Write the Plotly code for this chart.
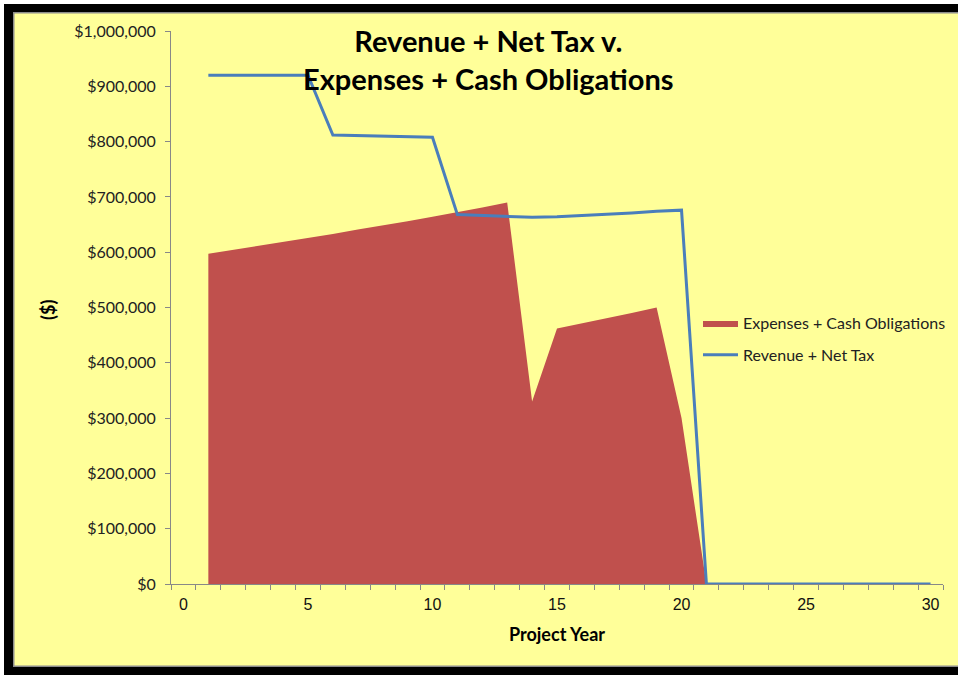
import plotly.graph_objects as go

years = list(range(0, 31))
expenses_cash = [None, 597000, 604000, 611000, 618000, 626000, 633000, 641000, 648000, 656000,
                 664000, 672000, 681000, 690000, 330000, 462000, 471000, 481000, 490000, 500000,
                 300000, 0, 0, 0, 0, 0, 0, 0, 0, 0, 0]
revenue_tax = [None, 920000, 920000, 920000, 920000, 920000, 812000, 811000, 810000, 810000,
               808000, 668000, 666000, 664000, 663000, 664000, 666000, 669000, 671000, 674000,
               676000, 0, 0, 0, 0, 0, 0, 0, 0, 0, 0]
x_tick_vals = [0, 5, 10, 15, 20, 25, 30]
y_tick_vals = [0, 100000, 200000, 300000, 400000, 500000, 600000, 700000, 800000, 900000, 1000000]
y_tick_text = ["$0", "$100,000", "$200,000", "$300,000", "$400,000", "$500,000",
               "$600,000", "$700,000", "$800,000", "$900,000", "$1,000,000"]

W, H = 958, 675
ML, MR, MT, MB = 171, 15, 31, 91
PW, PH = W - ML - MR, H - MT - MB


def px(x):
    return (x - ML) / PW


def py(y):
    return (H - MB - y) / PH


def rect(x0, y0, x1, y1, color, layer="below"):
    return dict(type="rect", xref="paper", yref="paper", x0=px(x0), x1=px(x1), y0=py(y1), y1=py(y0),
                fillcolor=color, line=dict(width=0), layer=layer)


fig = go.Figure()
fig.add_trace(go.Scatter(
    x=years[1:], y=expenses_cash[1:], mode="lines", fill="tozeroy",
    fillcolor="#C0504D", line=dict(width=0, color="#C0504D"),
    name="Expenses + Cash Obligations", legendgroup="a"))
fig.add_trace(go.Scatter(
    x=years, y=revenue_tax, mode="lines",
    line=dict(width=3, color="#4A7EBB"),
    name="Revenue + Net Tax", legendgroup="b"))

GRAY = "#8C8C8C"
shapes = [
    rect(0, 0, W, 4, "white"),
    rect(0, 0, 4, H, "white"),
    rect(4, 4, W, 12, "black"),
    rect(4, 4, 13, H, "black"),
    rect(4, 667, W, H, "black"),
    rect(13, 12, W, 13.5, GRAY),
    rect(13, 12, 14.5, 667, GRAY),
    rect(13, 665.5, W, 667, GRAY),
]

FONT = "Lato, Open Sans, sans-serif"
annotations = [
    dict(text="<b>Revenue + Net Tax v.<br>Expenses + Cash Obligations</b>", xref="paper", yref="paper",
         x=px(488), y=py(60), xanchor="center", yanchor="middle", showarrow=False,
         font=dict(family=FONT, size=29, color="black")),
    dict(text="<b>Project Year</b>", xref="paper", yref="paper",
         x=px(557), y=py(634), xanchor="center", yanchor="middle", showarrow=False,
         font=dict(family=FONT, size=18, color="black")),
    dict(text="<b>($)</b>", xref="paper", yref="paper", textangle=-90,
         x=px(48), y=py(310), xanchor="center", yanchor="middle", showarrow=False,
         font=dict(family=FONT, size=18, color="black")),
]

fig.update_layout(
    width=W, height=H,
    margin=dict(l=ML, r=MR, t=MT, b=MB, autoexpand=False),
    paper_bgcolor="#FFFF99", plot_bgcolor="rgba(0,0,0,0)",
    shapes=shapes, annotations=annotations,
    showlegend=True,
    legend=dict(x=px(698), y=py(306), xanchor="left", yanchor="top",
                bgcolor="rgba(0,0,0,0)", font=dict(family=FONT, size=16, color="#222"),
                itemwidth=35, tracegroupgap=8, traceorder="grouped"),
)
fig.update_xaxes(
    range=[-0.5, 30.5], tickmode="array", tickvals=x_tick_vals, ticks="",
    showgrid=False, zeroline=False, showline=True, linecolor="#888888", linewidth=1,
    tickfont=dict(family="Liberation Sans, Arial, sans-serif", size=16, color="#111"),
    minor=dict(tickmode="array", tickvals=[v - 0.5 for v in range(0, 32)], ticks="outside",
               ticklen=5, tickcolor="#888888", showgrid=False),
    ticklabelstandoff=6, automargin=False,
)
fig.update_yaxes(
    range=[0, 1000000], tickmode="array", tickvals=y_tick_vals, ticktext=y_tick_text,
    ticks="outside", ticklen=5, tickcolor="#888888",
    showgrid=False, zeroline=False, showline=True, linecolor="#888888", linewidth=1,
    tickfont=dict(family=FONT, size=16, color="#222"),
    ticklabelstandoff=6, automargin=False,
)

fig.write_html(
    "out.html",
    post_script="document.documentElement.style.overflow='hidden';document.body.style.overflow='hidden';document.body.style.margin='0';",
)
